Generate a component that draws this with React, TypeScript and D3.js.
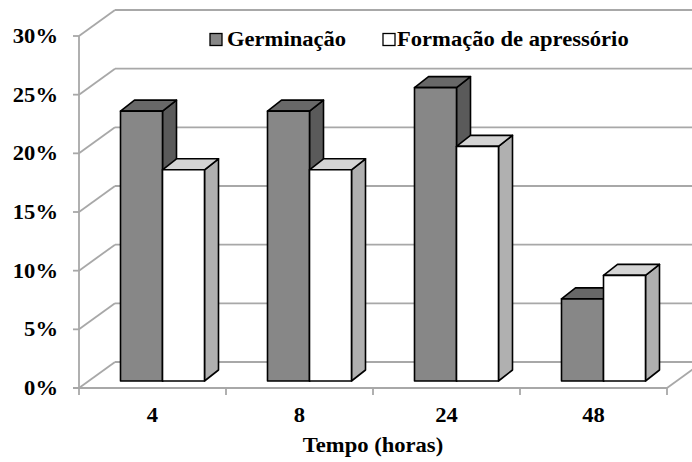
import React from "react";
import * as d3 from "d3";

const categories = ["4", "8", "24", "48"];
const seriesNames = ["Germinação", "Formação de apressório"];
const germinacao = [0.23, 0.23, 0.25, 0.07];
const formacao = [0.18, 0.18, 0.2, 0.09];
const yTicks = [0, 0.05, 0.1, 0.15, 0.2, 0.25, 0.3];
const xTitle = "Tempo (horas)";

const W = 692;
const H = 462;
const SX = 1.13;

const WDX = 36;
const WDY = -26;
const FDX = 10;
const FDY = -7;
const BDX = 14;
const BDY = -11;

const faces = [
  { front: "#878787", top: "#686868", side: "#5a5a5a" },
  { front: "#ffffff", top: "#d4d4d4", side: "#b0b0b0" },
];

const T = (props: any) => (
  <text fontFamily="Liberation Serif" fontWeight="700" fontSize="20" fill="#000" {...props} />
);

export default function App() {
  const x0 = d3
    .scaleBand()
    .domain(categories)
    .range([79, 667])
    .paddingInner(0.4286)
    .paddingOuter(0.2143);
  const x1 = d3.scaleBand().domain(seriesNames).range([0, x0.bandwidth()]);
  const y = d3.scaleLinear().domain([0, 0.3]).range([388, 36]);
  const fmt = d3.format(".0%");
  const series = [germinacao, formacao];
  const grid = "#a8a8a8";
  const pts = (a: number[][]) => a.map((p) => p.join(",")).join(" ");

  const bars: any[] = [];
  categories.forEach((c, ci) => {
    series.forEach((vals, si) => {
      const xl = (x0(c) as number) + (x1(seriesNames[si]) as number) + FDX;
      const xr = xl + x1.bandwidth();
      const yt = y(vals[ci]) + FDY;
      const yb = y(0) + FDY;
      const f = faces[si];
      bars.push(
        <g key={`${c}-${si}`} stroke="#000" strokeWidth={1.6} strokeLinejoin="round">
          <polygon points={pts([[xr, yt], [xr + BDX, yt + BDY], [xr + BDX, yb + BDY], [xr, yb]])} fill={f.side} />
          <polygon points={pts([[xl, yt], [xl + BDX, yt + BDY], [xr + BDX, yt + BDY], [xr, yt]])} fill={f.top} />
          <rect x={xl} y={yt} width={xr - xl} height={yb - yt} fill={f.front} />
        </g>
      );
    });
  });

  return (
    <svg width={W} height={H} style={{ position: "absolute", left: 0, top: 0 }}>
      <rect width={W} height={H} fill="#fff" />
      <g stroke={grid} strokeWidth={1.8} fill="none">
        {yTicks.map((t) => (
          <g key={t}>
            <line x1={79} y1={y(t)} x2={79 + WDX} y2={y(t) + WDY} />
            <line x1={79 + WDX} y1={y(t) + WDY} x2={667 + WDX} y2={y(t) + WDY} />
          </g>
        ))}
        <line x1={667} y1={y(0)} x2={667 + WDX} y2={y(0) + WDY} />
      </g>
      <g stroke={grid} strokeWidth={1.8}>
        <line x1={79} y1={y(0.3)} x2={79} y2={y(0)} />
        <line x1={73} y1={y(0)} x2={667} y2={y(0)} />
        {yTicks.map((t) => (
          <line key={t} x1={73} y1={y(t)} x2={79} y2={y(t)} />
        ))}
        {[...categories.map((c) => (x0(c) as number) - x0.step() * 0.2143), 667].map((xv, i) => (
          <line key={i} x1={xv} y1={y(0)} x2={xv} y2={y(0) + 7} />
        ))}
      </g>
      {bars}
      <g transform={`scale(${SX},1)`}>
        {yTicks.map((t) => (
          <T key={t} x={58 / SX} y={y(t) + 7} textAnchor="end">
            {fmt(t)}
          </T>
        ))}
        {categories.map((c) => (
          <T key={c} x={((x0(c) as number) + x0.bandwidth() / 2) / SX} y={422} textAnchor="middle">
            {c}
          </T>
        ))}
        <T x={(79 + 667) / 2 / SX} y={452} textAnchor="middle">
          {xTitle}
        </T>
        <T x={227 / SX} y={46.5}>
          {seriesNames[0]}
        </T>
        <T x={397 / SX} y={46.5}>
          {seriesNames[1]}
        </T>
      </g>
      <rect x={210} y={33.5} width={12} height={12} fill={faces[0].front} stroke="#000" strokeWidth={1.3} />
      <rect x={383} y={33.5} width={12} height={12} fill={faces[1].front} stroke="#000" strokeWidth={1.3} />
    </svg>
  );
}
